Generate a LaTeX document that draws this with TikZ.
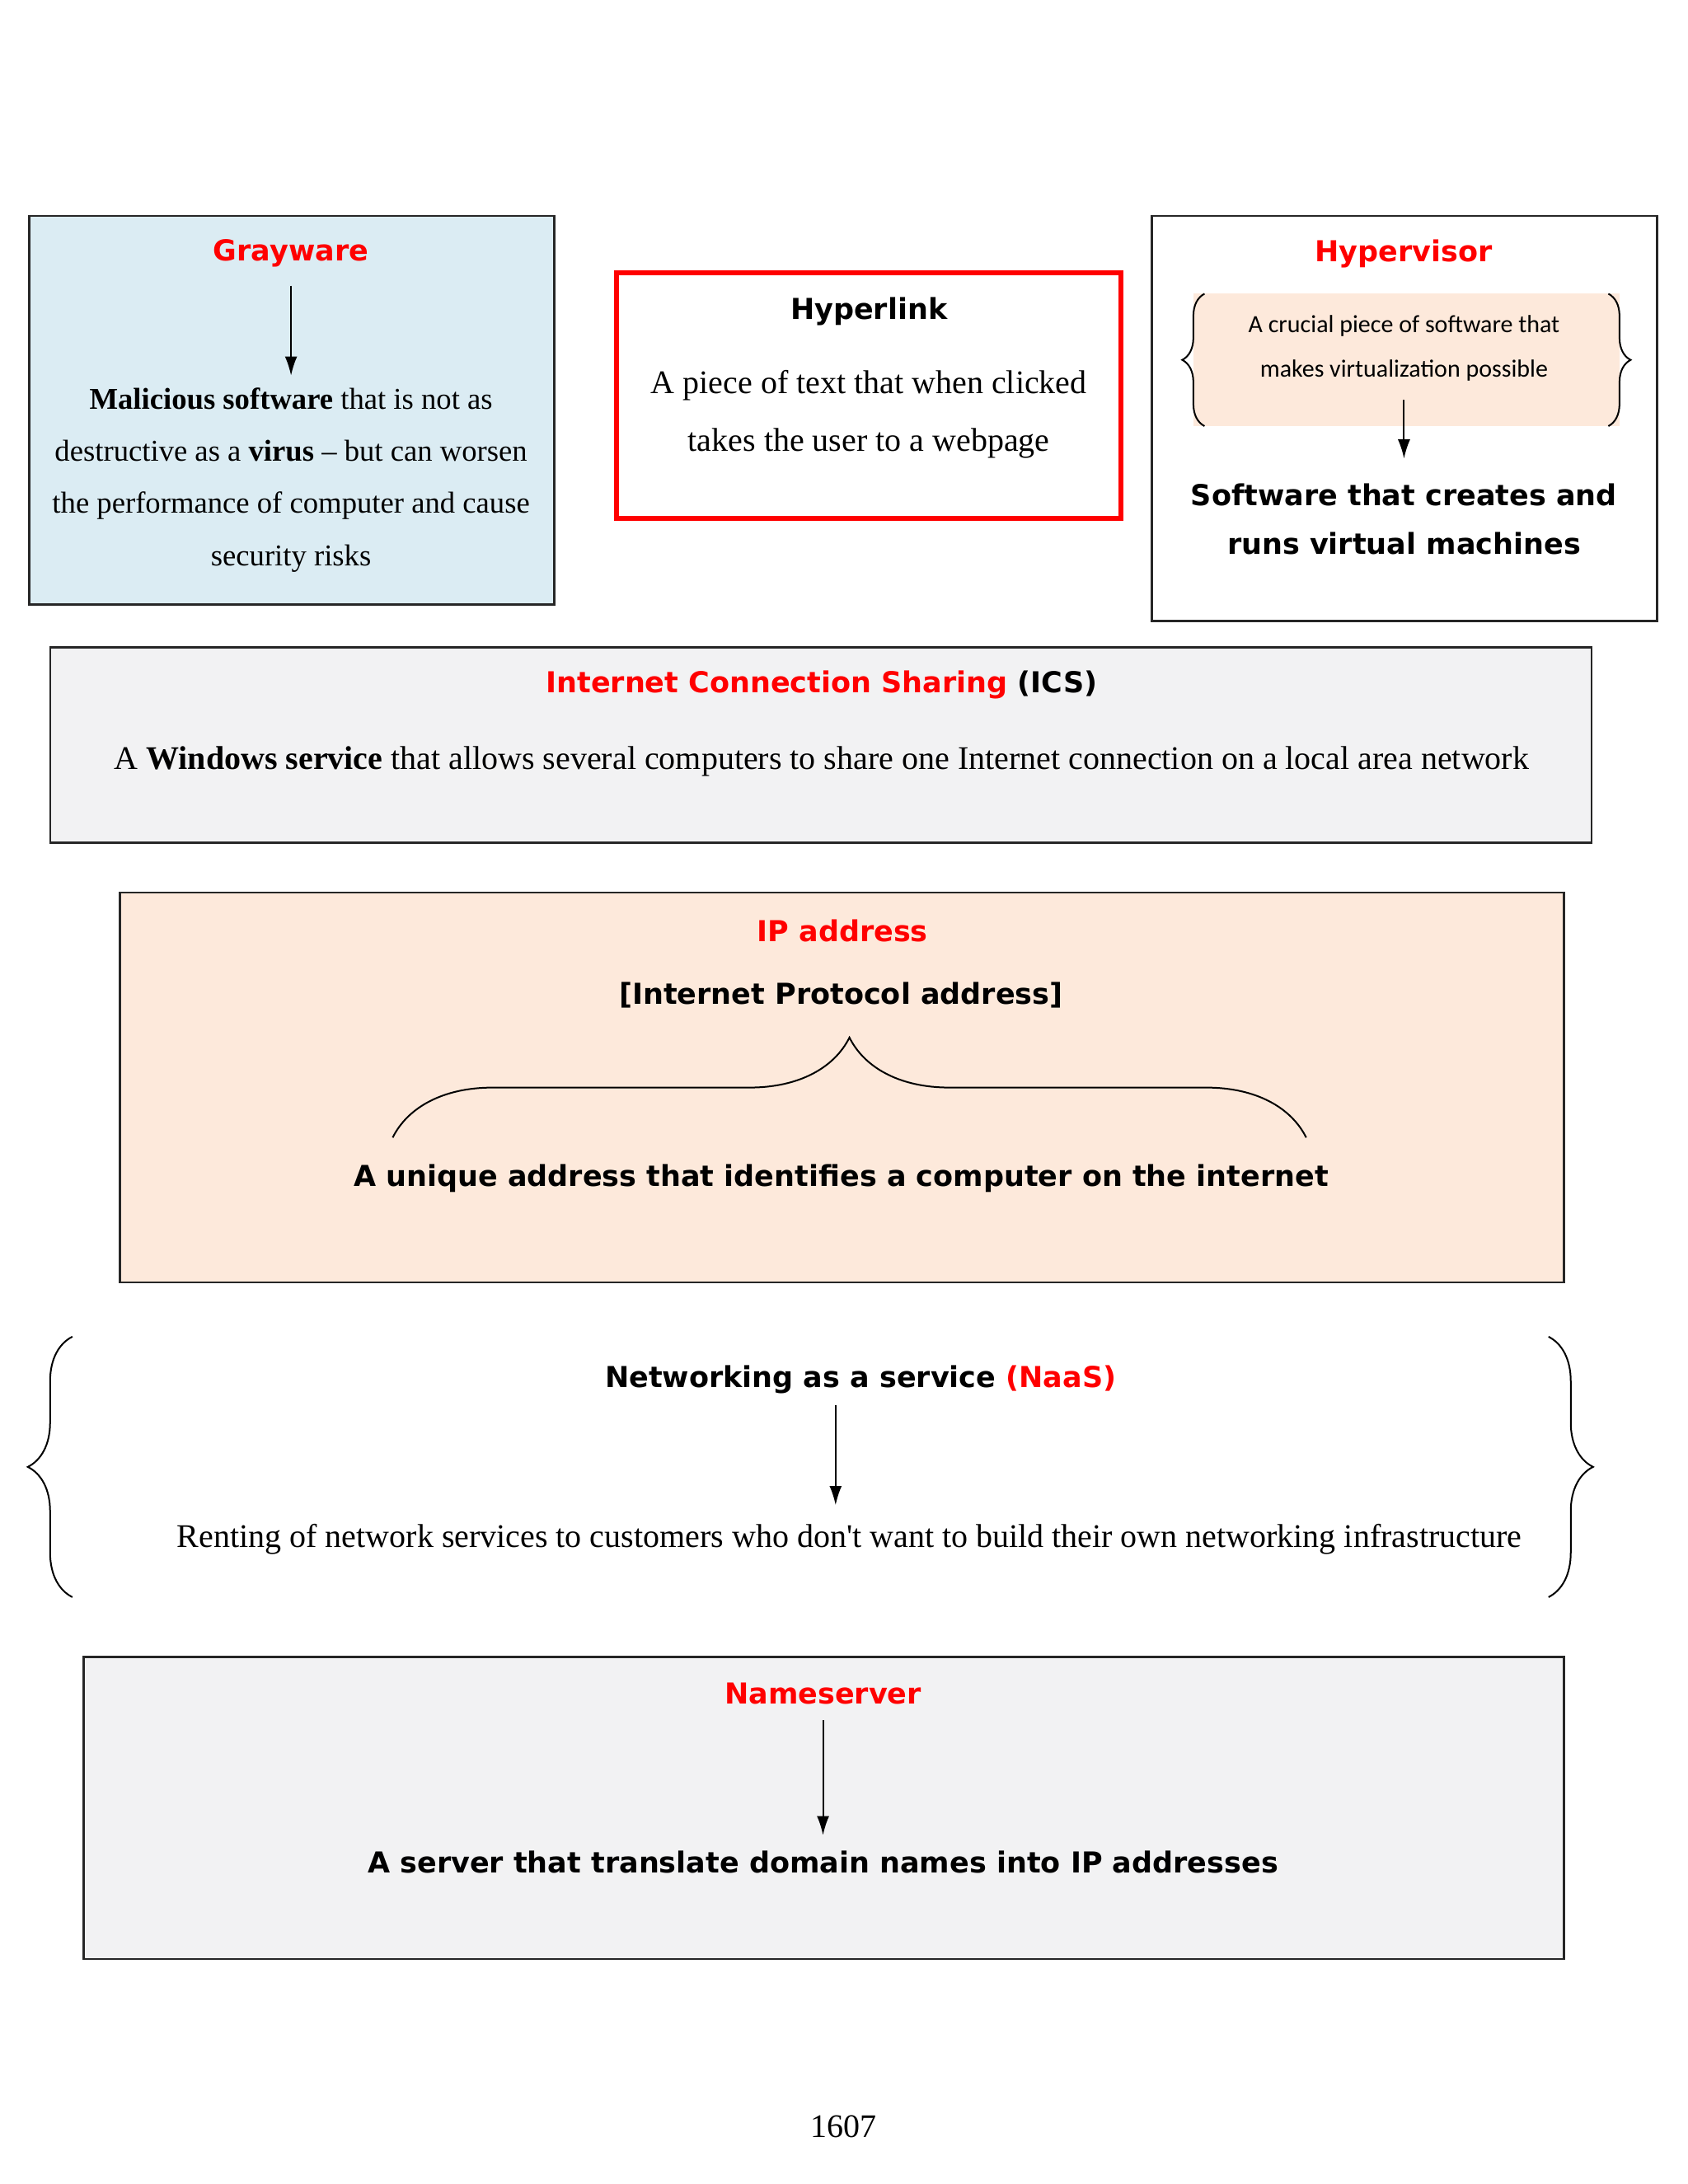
\documentclass[tikz,border=0pt]{standalone}
\usepackage{fontspec}
\setmainfont{Liberation Serif}
\newfontfamily\heavysans{DejaVu Sans}
\newfontfamily\calisans{Carlito}
\usetikzlibrary{arrows.meta,decorations.pathreplacing,positioning}
\definecolor{paleblue}{RGB}{219,236,243}
\definecolor{peach}{RGB}{253,233,219}
\definecolor{palegray}{RGB}{242,242,243}

\begin{document}
\begin{tikzpicture}[
    box/.style={draw=black!85, line width=0.8pt, inner sep=0pt},
    keyword/.style={font=\heavysans\bfseries\fontsize{10.5}{13}\selectfont, text=red, yshift=-1.3pt},
    heavy/.style={font=\heavysans\bfseries\fontsize{10.5}{17.7}\selectfont, align=center, yshift=-1.3pt},
    plain/.style={font=\fontsize{12}{21}\selectfont, align=center, yshift=-1.3pt},
    arr/.style={-{Latex[length=7pt,width=4.5pt]}, line width=0.6pt},
    curly/.style={decorate, decoration={brace, amplitude=#1}, line width=0.6pt}
]
\useasboundingbox (0,0) rectangle (21.59,-27.94);

% Grayware
\node[box, fill=paleblue, minimum width=6.716cm, minimum height=4.970cm] (grayBox) at (3.732,-5.246) {};
\node[keyword] (grayT) at (3.723,-3.189) {Grayware};
\node[plain, font=\fontsize{11}{19}\selectfont] (grayD) at (3.723,-6.094) {\textbf{Malicious software} that is not as\\ destructive as a \textbf{virus} -- but can worsen\\ the performance of computer and cause\\ security risks};
\draw[arr, shorten <=0.12cm, shorten >=0.03cm] (grayT) -- (grayD);

% Hyperlink
\node[box, draw=red, line width=1.8pt, fill=white, minimum width=6.448cm, minimum height=3.135cm] (linkBox) at (11.115,-5.059) {};
\node[heavy] (linkT) at (11.115,-3.937) {Hyperlink};
\node[plain] (linkD) at (11.115,-5.255) {A piece of text that when clicked\\ takes the user to a webpage};

% Hypervisor
\node[box, fill=white, minimum width=6.466cm, minimum height=5.184cm] (hypBox) at (17.964,-5.353) {};
\node[keyword] (hypT) at (17.955,-3.206) {Hypervisor};
\node[fill=peach, minimum width=5.451cm, minimum height=1.693cm] (hypFill) at (17.991,-4.605) {};
\draw[curly=0.285cm] (15.408,-5.451) -- (15.408,-3.758);
\draw[curly=0.285cm] (20.574,-3.758) -- (20.574,-5.451);
\node[font=\calisans\fontsize{9}{16}\selectfont, align=center, yshift=-1pt] (hypQ) at (17.96,-4.418) {A crucial piece of software that\\ makes virtualization possible};
\node[heavy] (hypD) at (17.96,-6.600) {Software that creates and\\ runs virtual machines};
\draw[arr, shorten <=0.12cm, shorten >=0.2cm] (hypQ) -- (hypD);

% ICS
\node[box, fill=palegray, minimum width=19.719cm, minimum height=2.494cm] (icsBox) at (10.501,-9.530) {};
\node[heavy] (icsT) at (10.51,-8.711) {\textcolor{red}{Internet Connection Sharing} (ICS)};
\node[plain] (icsD) at (10.51,-9.690) {A \textbf{Windows service} that allows several computers to share one Internet connection on a local area network};

% IP address
\node[box, fill=peach, minimum width=18.472cm, minimum height=4.988cm] (ipBox) at (10.768,-13.912) {};
\node[keyword] (ipT) at (10.777,-11.863) {IP address};
\node[heavy] (ipF) at (10.759,-12.683) {[Internet Protocol address]};
\draw[curly=1.28cm] (5.023,-14.553) -- (16.709,-14.553);
\node[heavy] (ipD) at (10.759,-15.034) {A unique address that identifies a computer on the internet};

% NaaS
\draw[curly=0.57cm] (0.926,-20.432) -- (0.926,-17.100);
\draw[curly=0.57cm] (19.808,-17.100) -- (19.808,-20.432);
\node[heavy] (naasT) at (11.009,-17.599) {Networking as a service \textcolor{red}{(NaaS)}};
\node[plain] (naasD) at (10.866,-19.648) {Renting of network services to customers who don\textquotesingle t want to build their own networking infrastructure};
\draw[arr, shorten <=0.03cm, shorten >=0.12cm] ([xshift=-0.32cm]naasT.south) -- ([xshift=-0.32cm]naasT.south |- naasD.north);

% Nameserver
\node[box, fill=palegray, minimum width=18.935cm, minimum height=3.866cm] (nameBox) at (10.537,-23.130) {};
\node[keyword] (nameT) at (10.528,-21.625) {Nameserver};
\node[heavy] (nameD) at (10.528,-23.780) {A server that translate domain names into IP addresses};
\draw[arr, shorten <=0.07cm, shorten >=0.08cm] (nameT) -- (nameD);

\node[plain] (pageNo) at (10.795,-27.165) {1607};

\end{tikzpicture}
\end{document}
